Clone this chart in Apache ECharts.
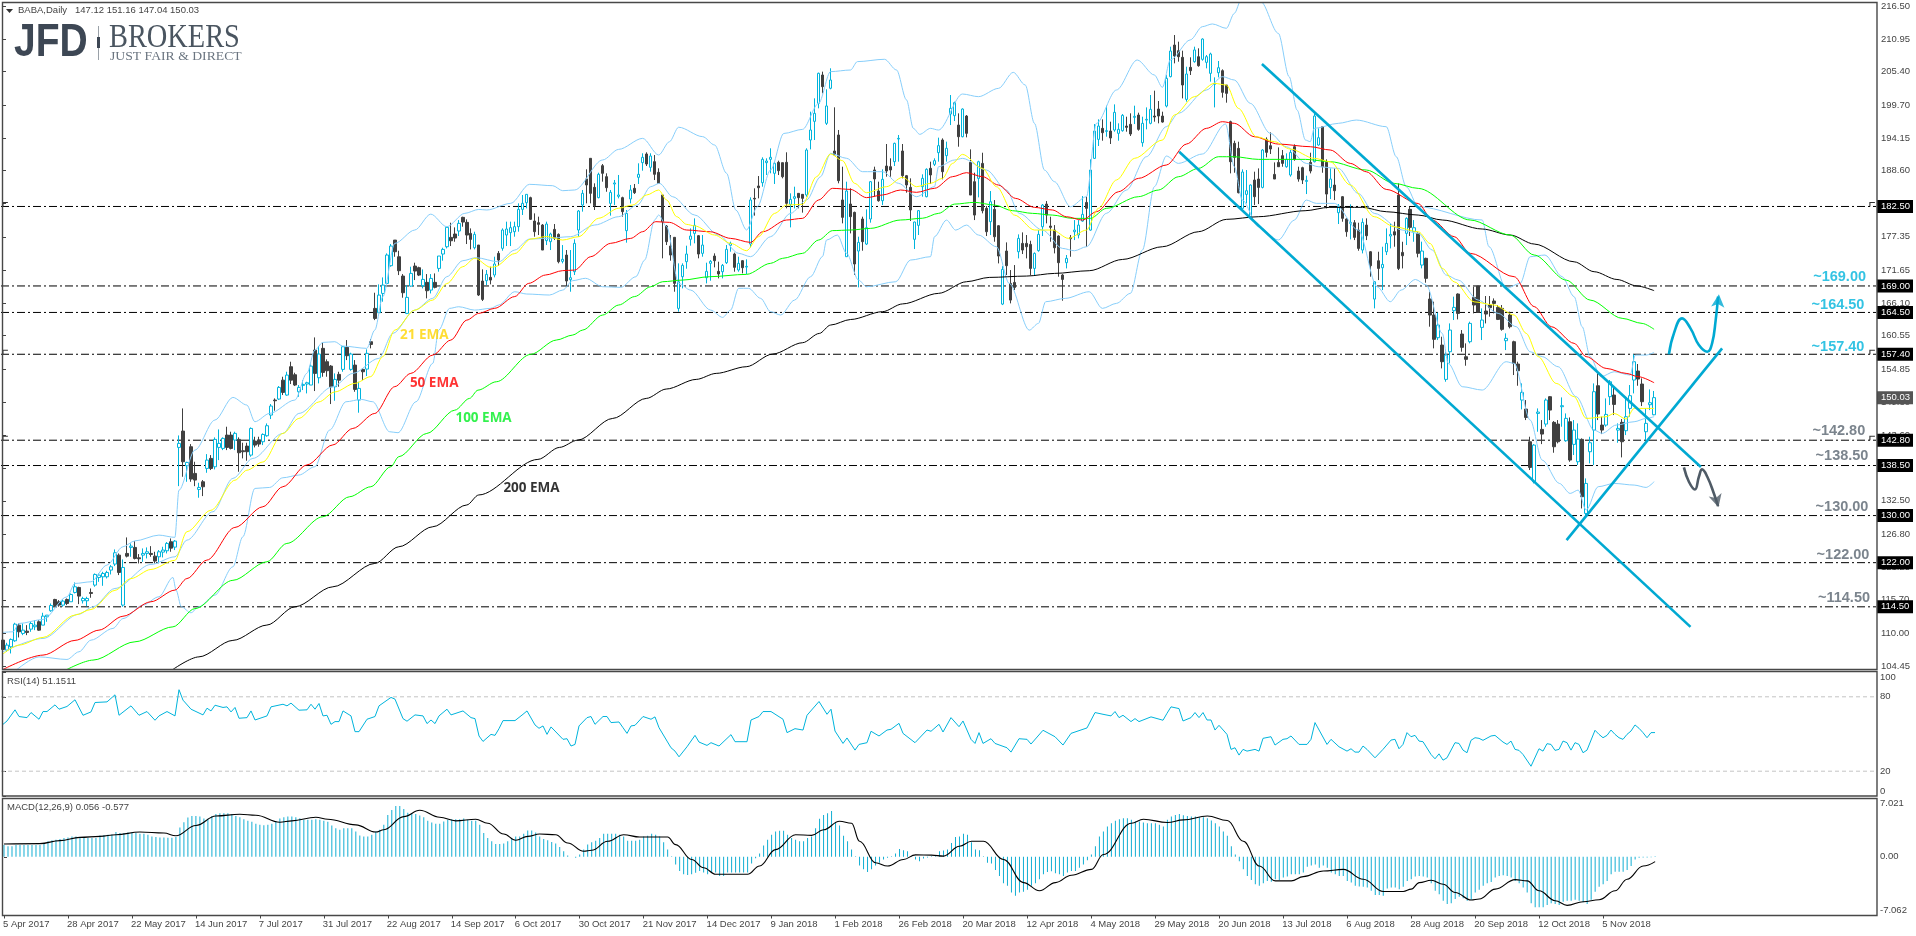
<!DOCTYPE html>
<html>
<head>
<meta charset="utf-8">
<title>BABA Daily</title>
<style>html,body{margin:0;padding:0;background:#fff}#chart{width:1916px;height:936px}</style>
<script src="https://cdn.jsdelivr.net/npm/echarts@6/dist/echarts.min.js"></script>
</head>
<body>
<div id="chart"></div>
<script>
// Daily candles as [open, close, low, high]
const candlesA = [
[108.85,107.26,106.86,109.0],[107.15,108.0,106.86,108.39],[107.71,108.96,106.58,109.13],[108.73,111.56,108.56,111.79],[111.39,110.26,109.3,111.67],
[109.98,110.54,109.69,111.67],[110.37,110.15,109.69,111.39],[110.71,111.67,110.26,111.96],[111.11,111.39,110.54,112.24],[111.96,110.54,110.43,112.24],
[111.39,112.92,111.39,113.49],[112.81,113.09,111.96,113.09],[113.83,114.73,113.66,115.07],[115.75,114.73,114.62,115.86],[115.36,114.79,114.51,115.64],
[114.79,115.47,114.51,115.75],[115.75,115.07,114.79,115.92],[115.36,116.6,115.36,116.77],[116.94,117.91,116.77,118.64],[117.79,116.32,114.96,117.91],
[115.53,115.92,115.07,116.21],[115.53,115.92,114.62,116.21],[116.94,116.77,116.04,117.62],[118.19,120.0,117.91,120.17],[119.49,119.89,118.75,120.17],
[119.6,120.17,118.07,120.45],[119.6,120.34,119.32,120.62],[120.74,121.3,120.0,121.59],[121.76,123.68,121.42,124.25],[123.28,120.34,119.89,123.57],
[114.79,121.19,114.51,122.55],[123.57,123.11,122.89,126.29],[124.59,124.81,123.0,125.27],[124.59,122.72,122.55,125.66],[122.83,122.66,121.87,123.46],
[123.28,123.57,122.15,124.42],[123.57,123.85,122.72,124.59],[123.57,123.4,123.0,124.81],[123.11,122.27,121.87,123.85],[123.0,123.85,121.87,124.14],
[123.79,124.14,122.89,124.7],[124.02,125.27,123.57,125.5],[125.55,124.47,123.85,126.12],[124.64,125.66,124.14,125.83],[141.58,142.26,135.0,143.61],
[144.35,139.14,136.59,148.2],[138.46,139.03,135.74,139.14],[141.69,136.2,135.74,142.14],[137.16,136.03,135.0,139.14],[134.44,134.78,133.03,135.57],
[135.74,134.89,133.31,136.03],[138.01,139.42,137.27,140.44],[139.71,138.01,137.73,140.27],[138.29,142.94,137.84,143.28],[141.58,142.26,139.42,144.63],
[141.41,143.11,141.12,143.28],[143.67,141.58,141.12,145.09],[143.67,141.41,141.24,144.24],[142.82,143.96,141.12,144.24],[142.94,140.67,137.44,143.28],
[141.01,140.84,139.71,142.37],[141.8,140.84,139.31,142.37],[140.27,144.8,139.99,144.97],[142.65,141.97,141.58,143.39],[142.82,142.14,141.69,143.39],
[142.54,143.78,141.97,143.96],[143.56,145.26,143.39,145.65],[147.07,148.6,146.39,148.94],[149.62,149.5,147.81,149.9],[149.79,151.77,149.62,152.0],
[153.0,150.92,150.47,153.58],[150.47,153.86,150.35,154.43],[155.28,153.0,152.34,156.13],[153.92,152.17,152.0,154.26],[151.03,151.77,150.18,152.17],
[152.11,152.28,151.32,153.0],[152.34,152.56,150.75,152.73],[152.17,155.39,152.17,155.68],[158.11,154.15,151.15,160.26],[153.41,157.43,152.45,158.79],
[158.4,154.32,153.58,159.36],[156.13,154.6,153.58,156.53],[155.39,151.88,148.94,155.56],[151.88,153.13,149.5,154.15],[153.98,153.0,151.88,154.43],
[154.83,158.68,154.43,158.79],[158.57,157.15,156.41,159.81],[154.83,157.43,154.6,157.66],[155.56,151.43,151.03,156.41],[149.62,151.6,147.47,152.73],
[154.83,154.43,153.0,155.0],[154.88,157.55,153.7,158.23],[159.53,159.07,158.4,159.98]
];
const candlesB = [
[165.19,163.49,163.2,167.85],[164.45,167.45,164.45,169.27],[167.73,169.15,166.32,170.45],[169.43,174.25,169.32,174.53],[172.44,175.78,172.27,176.12],
[176.79,174.81,173.96,176.79],[173.96,171.59,170.85,174.98],[170.68,167.85,167.0,171.02],[164.34,167.06,164.22,169.15],[168.98,171.13,168.87,172.27],
[172.38,171.53,170.0,172.95],[172.1,170.85,170.68,172.27],[169.04,170.11,168.59,171.81],[169.61,168.19,166.89,171.02],[168.3,170.28,167.73,171.02],
[169.61,168.76,168.59,171.13],[171.98,174.08,171.42,174.08],[174.42,175.21,173.29,175.49],[175.66,178.95,175.38,179.06],[177.25,176.68,175.78,179.74],
[177.82,177.14,176.51,178.95],[178.33,179.63,177.48,180.19],[180.65,179.85,179.06,180.76],[179.8,177.65,176.12,180.31],[177.93,176.91,175.21,178.78],
[175.49,177.76,175.21,178.21]
];
const candlesC = [
[175.95,167.46,167.29,175.95],[169.84,166.72,166.44,171.82],[169.89,170.97,169.16,171.71],[170.46,170.0,169.27,172.27],[170.86,172.73,170.46,173.97],
[174.54,173.4,172.39,174.93],[175.39,178.5,174.99,178.78],[177.65,178.67,175.78,179.92],[178.05,178.9,175.78,179.92],[178.22,179.07,177.37,179.92],
[179.07,182.01,178.22,183.03],[182.01,183.03,181.05,184.45],[183.14,184.56,182.18,184.56],[184.0,180.31,180.2,184.16],[180.03,178.22,177.37,181.33],
[179.75,179.46,177.65,180.77],[179.35,175.1,175.1,179.52],[176.69,179.52,175.95,179.92],[176.52,177.82,175.1,178.05],[178.61,177.09,176.8,179.52],
[177.76,173.12,172.84,177.93],[173.18,173.52,172.84,175.95],[174.25,169.84,168.87,175.1],[170.06,170.4,168.02,175.1],[171.42,176.24,170.86,176.92],
[178.5,181.73,177.37,181.9],[182.75,184.73,181.62,185.3],[187.17,186.15,183.03,188.81],[190.68,184.73,183.03,190.68],[185.75,182.63,181.9,186.43],
[184.0,187.96,183.88,188.24],[189.43,188.13,186.71,189.71],[187.56,185.69,185.0,188.13],[183.03,184.9,180.94,185.3],[186.32,186.49,182.75,187.0],
[184.22,184.45,183.88,187.85],[184.0,181.62,180.77,184.16],[178.39,181.33,176.35,181.9],[183.77,185.3,183.03,186.15],[185.58,184.84,184.62,186.32],
[187.45,187.96,186.32,189.83],[189.94,190.85,188.58,191.53],[191.41,189.71,189.37,191.7],[189.15,191.07,188.41,191.53],[190.11,187.96,186.99,191.24],
[188.3,186.43,186.32,188.98],[184.45,179.92,173.69,184.45],[179.18,176.52,175.95,179.35],[175.78,174.25,173.29,177.65],[177.26,169.44,168.02,177.26],
[165.19,169.72,164.63,172.84],[170.57,172.5,168.59,172.84],[173.12,174.42,171.93,175.84],[176.92,177.48,175.84,178.78],[177.93,179.29,176.24,180.48],
[177.54,174.42,173.69,177.65],[174.54,175.95,173.97,177.65],[170.4,171.48,169.44,172.95],[172.84,173.18,169.89,173.4],[174.08,173.29,172.16,174.54],
[171.48,171.03,170.29,173.12],[171.42,172.5,170.29,172.73],[172.95,175.22,172.73,175.95],[175.9,176.24,174.82,176.52],[174.42,172.16,171.42,174.65],
[171.71,172.84,171.42,173.97],[173.29,172.1,171.14,173.4],[172.21,172.33,171.03,173.52],[176.12,183.6,175.56,184.05],[183.88,183.77,180.94,185.58],
[185.98,185.69,183.88,187.67],[186.54,190.51,185.86,190.85],[189.94,190.22,187.84,190.68],[190.51,190.85,188.13,192.38],[188.13,189.83,186.32,190.11],
[190.0,188.58,187.84,190.28],[189.94,187.56,187.28,189.94],[190.0,183.03,182.18,191.7],[182.86,183.71,178.95,184.73],[183.88,184.16,182.18,185.86],
[184.73,184.0,182.18,184.73],[184.56,183.88,181.45,184.62],[184.45,192.09,184.16,192.38],[193.79,195.49,192.2,198.6],[196.96,198.32,193.79,200.87],
[200.02,205.12,199.17,205.23],[204.83,202.85,201.72,205.4],[196.62,199.57,196.34,202.4],[202.57,203.98,202.4,205.97],[191.92,191.24,191.24,199.34],
[194.64,186.88,186.43,195.49],[183.6,180.65,179.63,189.26],[173.97,185.13,173.97,186.71],[182.92,180.77,177.93,185.58],[181.5,172.73,170.86,181.62],
[174.93,176.4,168.76,177.37],[180.37,176.52,174.99,180.77],[176.12,178.9,175.95,182.01],[180.37,186.71,179.75,186.82],[188.7,187.17,184.16,189.26],
[185.13,183.48,183.31,186.71],[183.48,187.11,182.75,188.81],[189.37,188.52,187.56,193.11],[189.26,188.7,187.56,190.68],[190.11,193.22,189.37,193.34],
[193.96,194.07,190.11,194.64],[191.92,187.73,187.28,193.11],[187.73,186.15,184.84,187.85],[185.75,181.9,180.03,187.28],[176.92,179.86,175.27,179.92],
[179.29,181.79,177.65,181.9],[185.86,187.28,184.16,187.96],[184.16,188.81,184.05,188.98],[188.98,187.85,186.32,190.11],[189.66,190.28,189.37,190.68],
[191.64,192.83,190.11,194.19],[193.79,188.41,187.11,194.07],[191.13,192.38,190.11,193.51]
];
const candlesD = [
[198.2,199.17,196.33,201.43],[197.92,200.13,197.01,200.3],[196.33,194.35,192.65,198.32],[194.35,199.05,194.24,199.17],[197.86,194.92,194.24,198.03],
[190.0,184.44,184.44,192.2],[186.71,181.04,180.19,188.24],[187.27,190.1,184.05,190.27],[189.82,181.78,181.33,191.63],[182.18,178.21,177.48,182.57],
[179.91,183.31,177.65,185.12],[182.01,177.36,176.51,183.59],[179.23,174.08,172.83,179.34],[165.92,171.81,165.75,172.38],[174.93,172.44,170.85,176.4],
[169.43,166.6,166.04,171.7],[169.6,168.75,168.3,172.55],[174.81,177.08,173.68,177.76],[176.23,175.1,174.42,178.1],[176.23,175.66,173.68,177.65],
[176.06,171.98,170.85,176.68],[171.98,174.53,170.85,174.7],[175.0,177.76,174.81,178.49],[179.06,182.74,177.48,182.91],[182.91,181.04,179.63,183.42],
[179.17,178.95,176.51,180.76],[178.49,175.49,174.53,179.34],[177.48,172.95,170.57,177.59],[170.85,170.11,166.49,171.02],[172.95,173.68,171.98,174.25],
[177.19,177.02,173.96,177.65],[178.21,178.49,176.79,180.19],[177.65,179.34,177.08,180.19],[180.02,181.16,179.91,184.27],[183.19,182.18,175.66,184.16],
[178.49,188.69,178.38,190.5],[190.67,195.31,190.56,196.5],[193.9,196.16,192.77,197.3],[195.77,195.03,193.67,197.3],[195.26,195.37,194.35,199.62],
[195.31,194.13,193.11,196.9],[195.48,198.49,195.2,199.84],[194.92,195.6,193.67,196.62],[195.37,197.98,195.2,198.2],[196.16,195.94,195.2,197.75],
[196.45,194.81,194.47,198.32],[197.64,197.81,196.5,199.62],[198.03,195.6,195.37,198.43],[193.33,196.62,192.65,197.75],[197.18,197.3,195.6,199.33],
[196.62,199.0,196.45,201.43],[197.86,197.69,196.9,202.17],[199.05,197.86,196.62,200.41],[197.86,196.84,196.73,198.6],[199.56,204.26,199.33,204.83],
[204.55,208.9,204.43,209.64],[209.92,208.06,206.81,211.62],[208.96,207.94,207.09,210.49],[207.83,203.13,200.86,208.96],[200.69,205.0,200.3,206.24],
[206.13,205.56,204.83,207.83],[207.09,209.08,206.92,209.64],[207.94,206.41,206.24,209.36],[207.49,210.94,207.26,211.06],[206.98,207.94,205.96,208.23],
[205.11,208.4,203.7,208.62],[203.24,203.41,199.33,204.43],[205.22,206.07,204.43,207.21],[205.56,201.88,200.98,205.79],[203.13,201.71,200.13,203.13],
[196.9,190.1,188.12,197.07],[193.22,190.84,188.23,193.67],[192.37,184.84,184.72,193.5],[182.18,188.35,182.18,188.8],[184.55,185.18,183.03,188.69],
[180.76,186.14,180.76,186.25],[186.99,184.16,182.74,188.41],[187.16,185.74,182.91,188.97],[185.74,192.09,185.57,192.26],[193.9,191.69,190.84,194.24],
[192.82,192.26,191.41,195.09],[187.95,187.16,187.16,189.99],[189.99,189.25,189.25,192.54],[191.13,189.82,189.25,192.09],[189.25,190.5,189.08,191.52],
[187.84,191.69,187.56,192.09],[192.65,190.5,190.27,193.05],[188.52,187.16,186.71,189.25],[189.09,186.99,186.31,189.25],[186.76,186.93,184.61,187.73],
[189.99,188.52,188.12,191.63],[190.1,197.86,189.99,198.32],[192.94,194.18,192.82,195.77],[196.05,189.25,188.23,196.16],[189.99,184.61,182.18,190.5],
[185.69,187.16,183.76,188.97],[186.14,185.18,183.59,188.97],[181.44,182.57,179.52,182.91],[184.16,180.48,179.91,184.27],[180.37,178.21,177.36,180.48],
[179.63,179.8,176.91,182.86],[179.74,177.25,176.79,180.19],[178.49,175.38,174.98,179.74],[175.1,179.8,174.53,180.48],[179.34,177.53,176.79,180.48],
[174.81,172.44,170.57,174.92],[166.77,169.72,165.19,169.83],[173.28,171.98,170.0,174.81],[172.09,172.66,168.3,175.66],[174.81,176.23,174.25,178.78],
[177.48,177.76,175.38,179.63],[178.21,177.65,175.66,179.91],[184.44,171.98,171.7,186.42],[174.7,174.13,171.98,176.51]
];
const candlesE = [
[177.93,180.48,175.95,180.65],[182.01,178.95,177.48,182.46],[178.21,178.89,176.51,180.19],[177.93,174.54,173.86,178.1],[172.55,174.93,171.99,176.52],
[173.69,170.29,169.55,173.8],[166.78,164.06,162.08,168.02],[164.06,159.93,158.4,166.33],[160.21,162.36,159.81,164.46],[158.96,156.13,155.0,160.38],
[153.13,157.26,152.73,157.83],[157.83,161.51,155.85,162.64],[164.8,165.36,163.21,167.18],[167.63,164.34,163.32,167.74],[160.83,158.57,157.83,161.51],
[156.98,156.53,155.45,159.25],[159.53,162.64,159.25,162.93],[167.06,165.76,164.34,168.87],[168.99,164.51,164.51,168.99],[161.96,163.21,159.81,165.19],
[164.74,164.23,162.64,167.29],[165.76,165.31,163.78,167.29],[166.44,166.04,164.34,166.89],[165.36,163.32,163.21,165.76],[165.19,161.63,161.4,165.76],
[159.7,160.1,158.11,160.95],[164.06,162.08,161.79,164.63],[159.53,155.85,153.87,159.7],[155.74,154.6,152.05,156.13],[149.62,150.92,148.03,152.45],
[148.09,146.67,146.22,149.62],[142.54,138.18,137.73,143.39],[135.75,141.97,135.46,142.14],[147.35,147.58,144.24,148.2],[144.64,143.84,142.14,146.22],
[145.54,149.62,145.09,149.9],[150.19,147.92,146.22,150.3],[145.83,141.69,140.67,146.05],[145.54,142.54,142.26,146.22],[148.49,148.66,145.09,150.07],
[142.71,146.51,142.54,147.35],[145.94,139.43,139.14,146.67],[142.09,144.52,140.28,146.22],[139.14,142.99,138.58,145.66],[142.94,133.2,131.21,143.11],
[130.36,135.46,130.08,136.31],[140.84,142.37,138.86,143.39],[144.52,151.04,138.58,152.45],[152.05,147.24,146.22,154.15],[145.37,144.52,143.84,146.79],
[145.37,147.18,145.09,149.9],[150.19,152.73,148.77,153.02],[150.47,148.88,147.07,151.89],[144.52,144.81,142.37,145.66],[145.83,142.54,139.88,146.39],
[144.41,146.79,143.67,150.19],[148.2,150.36,146.79,152.17],[153.02,156.13,150.75,157.38],[154.55,153.19,152.05,155.74],[152.34,149.34,148.6,153.3],
[144.24,145.66,142.82,148.2],[148.83,149.17,147.92,151.43],[147.12,150.03,147.04,151.16]
];

// Moving averages and Bollinger bands: [bar number, price]
const ema21 = [[0,106.5],[4,108],[10,109.3],[18,113.1],[22,114.05],[28,117.3],[32,119.3],[37,120.85],[43,122.4],[46,127.25],[52,130.9],[58,136],[61,137.7],[65,139.1],[70,143.95],[74,146.5],[79,149.3],[83,151],[88,152.45],[92,153.6],[95,157],[98,161.5],[103,164.9],[107.5,166.6],[111,169.4],[115,172.27],[118,173.7],[122,172.16],[123,172.27],[128,174.5],[132,176.97],[136,177.4],[140,176.8],[144,177.37],[149,180.5],[154,182.2],[157.5,182.75],[161,184.45],[164,185.3],[166,183.6],[168.5,180.77],[171,179.46],[173,179.2],[178,177.65],[182,176.24],[186,174.99],[189,177.37],[193,181.33],[196,182.75],[200,182.86],[203.5,187.56],[207,191.41],[210,190.28],[213,186.43],[216,184.84],[221,185.86],[225,187.45],[228.5,185.86],[232,186.43],[235,187.27],[237.5,189.82],[240,191.35],[245,188.97],[248.5,185.86],[253,181.04],[258,178.5],[262.5,178.5],[266.5,177.08],[271,178.49],[274,182.18],[278.5,186.99],[283,190.67],[290,193.78],[293,198.03],[298,201.15],[303,203.41],[306,203.13],[309,199.17],[313.5,194.35],[318,193.5],[322,192.26],[328,190.67],[332,190.1],[337,186.14],[343,180.76],[348,179.06],[354,178.21],[357,176.2],[360,172],[363,169.7],[368,166.3],[373,165.76],[378,164.06],[381,160.95],[384,157],[388.5,152.45],[393,150.2],[396,146.5],[401,146.79],[403,147.35],[406,146.39],[408,148.2],[413,148.2]];
const ema50 = [[0,103.86],[10,106.3],[18,108.8],[24,110.54],[30,112.9],[37,115.36],[43,117.34],[46,119.3],[51,122.44],[58,127.98],[65,131.5],[70,134.9],[76,138.6],[82.5,142],[87.5,144.8],[93,147.35],[98,151.9],[102,154.15],[107.5,157.26],[112,159.8],[116,163.2],[119,164.34],[123,165.2],[128,167.2],[131.5,169.44],[135.7,170.86],[140,171.6],[143,171.7],[147,173.97],[152,176.24],[157,177.08],[160,178.22],[163.3,179.92],[166.7,179.8],[171,178.5],[177,178.2],[182,177.08],[187,176.4],[190,178.2],[196,180.2],[200,180.48],[204,183.6],[207.5,185.58],[212,185.4],[216,184],[220,184.45],[224.5,185.3],[228.5,184.9],[233,185.58],[237.5,187.56],[241,188.24],[245,187.56],[249,186.14],[253.3,183.87],[258,182.35],[262.5,181.9],[266,180.76],[270,180.19],[273.5,181.61],[279,185],[284,187.27],[291,189.54],[296,193.1],[301,195.77],[305,196.9],[308,196.62],[313,194.35],[319,193.1],[327,192.65],[332,192.09],[337,189.82],[341,188.4],[346,185.4],[354,183],[357.5,180.2],[363,177.37],[367,174.54],[378,170.57],[383,165.5],[387.3,162.08],[393,159.25],[396,157],[401,155],[406,154.15],[409,153.6],[413,152.56]];
const ema100 = [[16,103.86],[22.5,105.45],[33,108.56],[42.5,111.1],[48,114.2],[57.5,119],[66,122.15],[71,125.27],[80,129.8],[86.7,133.2],[92,134.9],[97,138.3],[99,140],[106,143.95],[113,147.9],[116.7,149.9],[118.8,151.3],[123.4,152.73],[132,157.38],[138.4,159.81],[142.5,160.66],[145,161.51],[150,164.06],[154,165.76],[158,167.2],[162,168.87],[165,169.72],[170,170],[176.7,170.57],[186,170.97],[192,172.84],[195,173.69],[200,174.54],[204,176.8],[207.5,178.4],[212,178.5],[217,178.78],[224.5,180.2],[230,180.5],[234,181.33],[238,182.9],[243,183.2],[248,182.74],[252.5,181.78],[257.5,181.33],[262.5,181.04],[267.5,180.48],[272,180.48],[276,182.18],[284,184.16],[289,185.29],[294,187.55],[299,188.97],[304,190.95],[308,190.95],[314,190.5],[325.8,190.5],[332,190.1],[341,188.69],[348,186.42],[354,185.57],[367,180.2],[377,177.65],[383,174.25],[391,170],[397,166.6],[405,163.5],[410,162.64],[413,161.63]];
const ema200 = [[42.5,103.86],[49,106],[57.5,108.8],[66,111.4],[73,114.5],[82.5,117.9],[93,121.87],[99,124.7],[107.5,128.1],[116,131.8],[119,133.5],[133.8,139.54],[139.2,141.58],[143.8,142.82],[152.5,146.5],[160.9,149.9],[165.9,151.49],[173.4,153.13],[178.4,154.15],[185.9,155.28],[192.5,157.43],[200,159.36],[204.2,160.94],[207,162.36],[212,163.3],[220,164.63],[225,165.95],[234,167.74],[241,169.72],[246.7,170.45],[256,170.68],[263,171.13],[271.7,171.59],[280,173.5],[290,175.66],[299,178.21],[306,180.31],[314,180.76],[325.7,181.78],[331.7,182.35],[340,182.35],[346,181.61],[354,181.04],[360,180.2],[370,178.67],[377,177.65],[383,176.12],[393,173.1],[398,171.42],[403.7,170.1],[408.7,169],[413,168.2]];
const bandUpper = [[0,110.15],[2.5,110.26],[4,111.67],[10,112.35],[16,116.2],[18,118.47],[22,118.75],[26,121.59],[30,124.7],[33,125.7],[39,126.68],[43,126.3],[44,134.3],[48,141.12],[53,146.22],[57.5,150.07],[61,148.77],[63,145.94],[66.7,147.35],[73,149.62],[76,154.15],[78,158.11],[80,159.41],[83,159.53],[85,158.79],[91,158.4],[93,161.51],[95,167.17],[98,176.23],[103,178.5],[107,181.2],[111,179.06],[115.5,181.33],[119,182],[121,181.9],[127,183.03],[131.7,186.26],[137.5,186.03],[140,185.18],[143,185.3],[150,190.4],[154,192.2],[160,194.07],[164,191.24],[166.7,193.5],[169,195.96],[175,194.36],[178,192.94],[181,188.13],[183.3,181.9],[186,178.5],[188.7,182.47],[192,188.7],[195.3,194.9],[200,195.6],[204,200],[207,205.4],[212,205.68],[213.7,207.1],[220.5,207.5],[223.5,205.68],[226,200.6],[227.7,195.77],[229.3,194.75],[232,195.77],[234,195.48],[240,201.6],[244,201.15],[249,202.56],[252.7,205.28],[255.7,203.13],[258,196.62],[260.5,188.69],[263,186.71],[267,182.46],[271,184.16],[273.5,196.62],[278.5,202.28],[283.7,207.38],[288,204.83],[290,202.73],[292,207.4],[297,210.8],[300,213.04],[302.5,213.5],[306,212.76],[308,215.3],[309.7,217.6],[314.6,217.3],[319,211.91],[321.7,204.55],[323.7,198.88],[325.8,193.78],[327,193.5],[328,195.77],[334,196.62],[338.5,197.18],[346,196.05],[348.5,190.95],[351,185.86],[354,182.46],[370,180.2],[371.7,175.67],[376,168.59],[379.5,169.44],[382,173.97],[385.7,174.25],[390,170.57],[393,167.17],[395,162.08],[397,156.98],[399.7,153.58],[403,154.43],[407,153.87],[408.3,157.26],[411,157.26],[413,157.72]];
const bandMiddle = [[0,106.86],[10,109.13],[19,113.26],[22.5,114.5],[28,117.62],[37,121.7],[43,123],[46,125.83],[52.5,130.65],[57.5,136.31],[62.5,139.71],[70,143.95],[74,147.35],[82.5,151.88],[87.5,154.15],[94,156.7],[97.5,160.94],[103,164.9],[107.5,166.9],[111,170.57],[115,173.29],[118.3,173.8],[124,173.1],[128,175.1],[131.7,176.97],[136,177.08],[142,177.37],[148,179.35],[154,180.77],[158.7,182.75],[162,185.86],[164.2,186.43],[167.5,184.16],[173,181.05],[179,177.65],[184,174.54],[187,173.97],[192,177.37],[197,181.33],[201,183.6],[204.5,187.56],[207,191.53],[211,190.68],[215,188.41],[220,188.41],[224,186.43],[228.5,184.16],[233,185.86],[234,189.25],[238,190.39],[240,190.67],[246,188.69],[251,185.29],[254.2,181.33],[260,178.5],[265,175.38],[268,174.98],[271,175.66],[276,181.33],[281,185.29],[286,190.95],[291,196.05],[294,198.32],[301,202.28],[305,204.55],[308,203.98],[312,200.01],[317,194.92],[321,192.65],[326,189.82],[329,189.25],[334,188.97],[339,184.72],[343,181.33],[350,178.5],[354,177.93],[357.5,175.1],[361,170.86],[364,170],[369,166.6],[374,164.34],[378.5,162.08],[382,157.83],[385,157],[389,155.28],[393.5,150.19],[398,144.52],[400,143.96],[403.5,145.37],[408,145.94],[411,146.5],[413,146.8]];
const bandLower = [[3.3,103.75],[9,106],[16,105.56],[19,106.86],[22,108.84],[27.5,110.83],[30,112.5],[35,114.79],[39,116.21],[42.5,119.49],[43.3,117.34],[44.6,114.51],[47,113.49],[49,114.51],[53,116.49],[57.5,121.3],[60,126.4],[63,134.61],[66.7,134.78],[70,136.42],[74,136.88],[78,138.3],[81.7,144.52],[85.8,149.33],[89.6,149.73],[92.5,149.33],[96.7,144.24],[98.8,144.07],[103.3,149.33],[107.5,155.85],[109,161.51],[111.7,165.19],[114,165.47],[118,164.9],[122,165.2],[124,165.76],[128,168.02],[131,167.63],[136.7,167.46],[140,168.3],[142.5,169.9],[145.7,170.3],[150,168.87],[154.5,168.76],[158.3,170.57],[160.5,173.4],[163,180.2],[164,181.05],[166,179.07],[169,169.44],[172,168.3],[177,164.9],[180,163.66],[182,164.9],[184,168.6],[186.5,168.6],[189.5,166.9],[192,164.63],[194.5,164.06],[198,166.6],[202,170.57],[205,174],[206,176.8],[208.7,177.65],[211,174.54],[214,170],[216,168.87],[223.3,169.72],[227,173.4],[232,173.97],[233,177.37],[236,180.19],[238.3,178.49],[241,179.34],[244,177.65],[248.5,175.66],[251.7,169.43],[256.7,161.5],[259,162.64],[260.8,166.32],[265.7,166.89],[271.7,168.02],[275,165.19],[278.5,166.04],[282,167.74],[285,175.1],[288,185.86],[291,191.07],[294,189.82],[300,191.41],[305.8,196.5],[308,189.25],[310,183.59],[314,179.06],[319,176.8],[323,180.19],[326,183.59],[328.5,183.03],[333,183.03],[339,178.49],[343.7,168.87],[347,166.32],[349.7,168.3],[353.3,170.1],[356,169.16],[360,160.95],[361.5,155.85],[365,151.89],[370,151.32],[376,156.13],[378,155.85],[382,146.22],[385,139.43],[389.3,135.46],[392,133.76],[394,134.33],[396,130.93],[399,134.9],[403,135.46],[408,135.18],[411,134.78],[413,135.75]];

// RSI(14) turning points: [bar number, value]
const rsiLine = [[0,57.8],[1,60.5],[3,69.5],[4,64.1],[6,63.2],[7,67.3],[9,61.9],[10,68.1],[11,68.1],[13,73.5],[14,70],[16,72.2],[18,77.6],[20,65.1],[22,67.8],[23,75.4],[26,75.9],[28,81.6],[29,65.1],[32,72.7],[34,65.1],[36,68.1],[38,61.1],[39,64.6],[41,68.1],[43,64.6],[44,85.7],[45,77.3],[47,70],[50,65.4],[51,70.8],[52,68.6],[53,73.2],[55,71.4],[56,71.9],[57,67.8],[58,71.4],[59,62.7],[61,63.2],[62,68.6],[63,61.3],[66,64.6],[67,71.9],[70,74],[71,72.7],[72,74.9],[74,69.2],[76,69.5],[77,74],[78,70],[79,74.6],[80,64.6],[81,65.1],[82,57.8],[83,60],[84,60],[85,68.6],[87,64.6],[88,51.9],[89,51.9],[91,61.9],[93,64.1],[94,72.7],[97,79.5],[98,78.1],[100,62.4],[101,60.3],[103,65.4],[105,64.6],[106,58.4],[107,61.3],[108,58.4],[109,64.6],[111,70],[112,65.4],[115,68.6],[117,63.2],[118,62.4],[119,48.4],[120,44],[122,49.7],[123,48.9],[124,54.3],[125,60.8],[128,60.8],[130,65.9],[131,68.6],[133,57.3],[134,54.6],[135,56.5],[136,49.7],[137,55.7],[138,52.4],[140,45.7],[141,46.2],[142,40.3],[143,41.6],[144,56.5],[146,63.2],[147,64.1],[148,57.8],[150,64.1],[151,64.1],[152,59.2],[154,59.7],[155,55.1],[156,50.5],[157,56.5],[158,57],[160,64.1],[162,61.9],[163,63.8],[164,55.1],[166,44.3],[167,38.9],[168,36.2],[169,31.6],[171,39.7],[173,48.9],[174,43.5],[176,40.8],[177,43],[179,40.3],[182,49.5],[183,43.8],[186,43.8],[187,61.3],[189,64.1],[190,68.1],[192,68.1],[195,61.9],[196,51.1],[198,54.3],[200,53.2],[201,65.1],[204,76.2],[206,65.9],[207,70],[208,52.4],[210,42.4],[211,46.8],[213,37],[214,41.6],[216,43],[217,52.2],[219,48.4],[221,53.2],[222,53.8],[224,58.6],[225,50.5],[228,43],[231,53.2],[232,52.2],[234,57.8],[235,51.6],[237,63.2],[239,55.9],[240,60.5],[242,45.7],[243,42.4],[244,51.1],[245,42.4],[247,46.2],[248,42.4],[251,38.9],[252,35.4],[254,46.2],[256,45.7],[257,41.9],[260,53],[263,47.8],[265,41.1],[267,50.5],[271,54.9],[273,67.3],[275,65.9],[277,64.6],[278,68.1],[279,63.2],[280,65.1],[282,60],[283,62.4],[284,60],[287,63.8],[290,61.1],[291,66.7],[292,71.9],[294,70.5],[295,60.5],[297,63.2],[298,67.3],[299,63.2],[300,67.3],[301,61.3],[302,61.3],[303,53.2],[304,57],[306,49.7],[307,37.6],[308,38.9],[309,33],[310,37.6],[311,36.2],[313,37.6],[314,36.2],[315,46.5],[317,47.8],[318,41.1],[320,45.7],[321,46.2],[322,48.4],[324,41.6],[326,41.6],[327,45.7],[328,59.2],[331,41.6],[332,45.7],[334,39.7],[336,36.2],[337,38.1],[338,35.4],[339,35.4],[340,40.3],[341,37.6],[343,30.8],[345,37.6],[347,45.1],[348,45.7],[349,38.1],[350,41.6],[351,51.1],[352,47.8],[353,48.9],[354,44.3],[355,43.8],[357,33.5],[358,30],[359,34],[360,28.9],[361,30.8],[363,43],[364,42.4],[365,37],[366,34.9],[367,44.9],[368,47],[369,46.5],[370,44.9],[372,48.4],[373,48.9],[375,43.5],[376,41.6],[377,44.3],[378,37.6],[379,36.8],[380,33.5],[382,24],[384,38.1],[385,36.2],[386,42.2],[387,41.6],[388,36.8],[389,37.6],[390,44.3],[391,43],[392,37],[393,43],[394,41.6],[395,34.9],[396,37],[398,53],[399,49.7],[400,47],[401,48.9],[402,53.2],[403,49.7],[404,47],[405,45.7],[406,49.7],[407,52.4],[408,57.3],[409,54.6],[410,51.1],[411,47],[412,51.1],[413,51.15]];

// MACD(12,26,9) histogram, one value per bar
const macdHistA = [1.43,1.27,1.27,1.43,1.43,1.43,1.43,1.43,1.43,1.43,
1.67,1.87,1.99,2.06,2.14,2.26,2.34,2.46,2.46,2.34,
2.26,2.26,2.26,2.26,2.58,2.62,2.66,2.7,2.98,2.86,
2.86,2.94,2.94,2.86,2.78,2.78,2.66,2.46,2.38,2.34,
2.34,2.3,2.3,2.38,3.53,4.17,4.72,4.92,4.92,4.84,
4.6,4.57,4.92,5.16,5.24,5.24,5.24,5.16,4.92,4.76,
4.53,4.33,4.21,3.97,3.85,3.81,3.85,3.97,4.25,4.6,
4.76,4.84,4.84,4.76,4.64,4.45,4.45,4.45,4.53,4.45,
4.33,4.21,3.77,3.45,3.26,3.45,3.45,3.45,3.06,2.58,
2.46,2.46,2.66,3.06,3.26,3.85,5.04,5.64,6.11,6.11];
const macdHistB = [5.76,5.32,5.24,5.16,4.96,4.76,4.33,4.13,3.97,3.97,
4.25,4.45,4.53,4.53,4.53,4.6,4.45,4.33,4.33,3.85,
2.86,2.26,1.87,1.55,1.55,1.59,1.87,2.18,2.46,2.46,
2.78,3.18,3.18,2.94,2.46,2.14,1.99,1.79,1.59,1.19,
0.67,0.16,0,-0.12,0.28,0.87,1.47,1.75,1.95,2.26,
2.78,2.78,2.78,2.78,2.66,2.46,1.95,1.95,1.95,2.06,
2.46,2.54,2.78,2.66,2.46,1.75,0.87,0.08,-0.91,-1.71,
-2.1,-2.18,-2.1,-1.91,-1.71,-1.9,-2.1,-1.9,-1.9,-2.3,
-2.3,-1.9,-1.9,-1.9,-1.9,-1.9,-1.9,-0.79,-0.16,0.4,
1.35,2.06,2.66,3.06,3.14,3.14,2.66,2.26,2.06,1.87];
const macdHistC = [1.87,2.26,2.46,3.45,4.57,5.04,5.24,5.52,4.17,3.77,
2.54,1.87,0.87,0.08,-1.03,-1.51,-1.83,-1.51,-1.03,-0.71,
-0.32,-0.12,0.08,0.4,0.95,0.79,0.67,0.08,-0.32,-0.52,
-0.2,-0.08,0.08,0.08,0.67,0.75,0.87,1.67,2.38,2.46,
2.78,2.66,1.75,0.87,0.79,0.08,-0.71,-0.79,-1.59,-2.3,
-3.18,-3.49,-4.29,-4.68,-4.29,-4.21,-3.97,-3.49,-3.18,-2.7,
-2.1,-1.83,-1.75,-1.98,-2.1,-2.3,-1.9,-1.71,-1.71,-1.31,
-0.91,-0.4,0.28,1.27,2.46,3.06,3.65,4.05,4.33,4.53,
4.64,4.64,4.45,4.25,4.25,4.13,4.05,4.05,4.05,3.85,
3.65,4.45,4.84,5.04,5.16,5,4.92,4.84,4.84,4.76];
const macdHistD = [4.76,4.64,4.37,4.05,3.65,3.06,2.54,1.27,0.28,-0.52,
-1.51,-2.3,-2.78,-3.3,-3.49,-3.18,-2.9,-3,-2.7,-2.78,
-2.5,-2.38,-2.1,-2.1,-2.1,-1.9,-1.19,-1.03,-0.91,-1.31,
-1.03,-1.31,-1.9,-2.1,-2.3,-2.3,-2.9,-3.1,-3.49,-3.57,
-3.61,-3.69,-4.09,-4.6,-4.6,-4.68,-3.81,-3.69,-3.69,-3.89,
-3.61,-2.9,-2.7,-2.38,-2.3,-2.38,-2.5,-3.18,-4.09,-4.49,
-5.28,-5.68,-5.6,-5.08,-4.8,-5,-5.28,-5.16,-4.29,-3.97,
-3.49,-3.18,-3.02,-2.5,-2.3,-2.22,-2.3,-2.5,-2.9,-3.18,
-3.69,-4.29,-5.6,-6.07,-6.07,-6.07,-5.8,-5.6,-5.68,-5.8,
-5.4,-5.28,-5.28,-5.16,-5.28,-5.48,-5.68,-5.16,-4.21,-3.61,
-3.3,-2.9,-2.1,-1.79,-1.79,-1.79,-1.59,-1.11,-0.32,-0.12,
-0.08,-0.08,-0.04,0.056];
const macdSignal = [[0,1.55],[9,1.59],[14,1.95],[19,2.34],[24,2.46],[28,2.66],[34,2.98],[40,2.86],[43,2.54],[48,3.77],[53,4.92],[59,5.12],[63,5],[69,4.17],[72,4.33],[78,4.76],[81,4.53],[88,3.85],[93,2.98],[95,3.26],[100,4.84],[104,5.6],[109,4.76],[113,4.33],[118,4.53],[121,4.05],[125,2.74],[128,1.99],[131,2.46],[134,2.74],[138,2.66],[141,1.67],[145,0.67],[147,0.79],[151,1.87],[155,2.66],[159,2.38],[166,2.38],[168,1.47],[172,-0.32],[175,-1.31],[178,-2.1],[186,-2.1],[189,-1.11],[193,0.87],[198,2.66],[202,2.58],[205,3.26],[209,4.29],[212,4.05],[214,1.87],[218,-0.71],[221,-1.11],[225,-0.32],[228,0.24],[232,0.2],[235,0.08],[239,1.27],[242,1.87],[245,1.87],[250,-0.32],[255,-3.1],[259,-4.09],[263,-3.1],[267,-2.22],[272,-1.51],[275,0.28],[282,4.05],[285,4.53],[291,4.13],[295,4.45],[301,4.92],[306,4.37],[310,1.87],[314,-1.11],[318,-2.9],[322,-2.9],[325,-2.38],[330,-1.71],[335,-1.51],[340,-2.7],[345,-4.17],[350,-4.17],[352,-3.89],[354,-3.1],[357,-2.82],[360,-3.3],[363,-4.29],[367,-5.2],[369,-5.08],[373,-3.89],[378,-2.74],[381,-2.9],[384,-4.09],[388,-5.28],[391,-5.84],[395,-5.4],[399,-5.16],[403,-4.09],[406,-2.7],[410,-1.11],[413,-0.577]];

// Axis ticks, support and resistance levels, date labels
const priceTicks = [216.5,210.95,205.4,199.7,194.15,188.6,183.05,177.35,171.65,166.1,160.55,154.85,149.3,143.6,138.05,132.5,126.8,121.25,115.7,110,104.45];
const levels = [182.5,169,164.5,157.4,142.8,138.5,130,122,114.5];
const lastClose = 150.03;
const rsiTicks = [0,20,80,100];
const macdTicks = [-7.062,0,7.021];
const dateTicks = ['5 Apr 2017','28 Apr 2017','22 May 2017','14 Jun 2017','7 Jul 2017','31 Jul 2017','22 Aug 2017','14 Sep 2017','6 Oct 2017','30 Oct 2017','21 Nov 2017','14 Dec 2017','9 Jan 2018','1 Feb 2018','26 Feb 2018','20 Mar 2018','12 Apr 2018','4 May 2018','29 May 2018','20 Jun 2018','13 Jul 2018','6 Aug 2018','28 Aug 2018','20 Sep 2018','12 Oct 2018','5 Nov 2018'];

// Drawn trend channel, rising support and the two scenario paths
const channelUpper = [[314.9,206.7],[424.7,138.25]];
const channelLower = [[294.2,191.8],[422.1,111.1]];
const risingSupport = [[391.1,125.84],[430,158.4]];
const bullPath = [[416.7,157.38],[417.95,160.95],[420,163.49],[422.1,161.8],[424.2,158.96],[426.3,157.83],[427.5,159.25],[428.4,163.21],[429,167.17]];
const bearPath = [[420.45,138.18],[421.7,135.75],[423.2,134.44],[424.2,136.6],[425,137.84],[426.3,136.6],[427.95,133.76],[429,131.6]];

const CYAN = '#00b4dc', DARK = '#404040', SLATE = '#5a6570', BAND = '#87cefa';
const FONT = '"Liberation Sans", Arial, sans-serif';
const SLOTS = 469, XMIN = -0.5, XMAX = SLOTS - 0.5;

const candles = [].concat(candlesA, candlesB, candlesC, candlesD, candlesE);
const macdHist = [].concat(macdHistA, macdHistB, macdHistC, macdHistD);
const slots = Array.from({length: SLOTS}, (_, i) => String(i));

const lineSeries = (data, color, width, z, extra) => Object.assign({
  type: 'line', xAxisIndex: 1, yAxisIndex: 0, data, symbol: 'none', z,
  lineStyle: {color, width}, silent: true
}, extra || {});
const curved = {smooth: 0.3, smoothMonotone: 'x'};

// Text placed in chart coordinates
const note = (x, y, text, color, size, family) => ({
  value: [x, y],
  label: {show: true, position: 'inside', formatter: text, color, fontSize: size,
          fontWeight: 'bold', fontFamily: family}
});
const OPEN = '"Open Sans", "Liberation Sans", sans-serif';
const notes = [
  note(105.4,160.7,'21 EMA','#ffd400',13.5,OPEN), note(107.85,152.5,'50 EMA','#ff0000',13.5,OPEN),
  note(120.2,146.6,'100 EMA','#00ee22',13.5,OPEN), note(132.2,134.7,'200 EMA','#000000',13.5,OPEN),
  note(459.4,170.57,'~169.00',CYAN,14.5,FONT), note(459,165.76,'~164.50',CYAN,14.5,FONT), note(459,158.68,'~157.40',CYAN,14.5,FONT),
  note(459.2,144.36,'~142.80',SLATE,14.5,FONT), note(460,140.11,'~138.50',SLATE,14.5,FONT), note(460,131.5,'~130.00',SLATE,14.5,FONT),
  note(460.25,123.3,'~122.00',SLATE,14.5,FONT), note(460.5,116,'~114.50',SLATE,14.5,FONT)
];

const chart = echarts.init(document.getElementById('chart'), null, {renderer: 'canvas'});
const small = {color: '#444', fontFamily: FONT, fontSize: 9.5};

const frame = (y, h) => ({type: 'rect', silent: true, z: 50,
  shape: {x: 2.5, y, width: 1874.5, height: h}, style: {fill: 'none', stroke: '#484848', lineWidth: 1.4}});
const text = (x, y, t, size, family, fill, sx, weight) => ({type: 'text', x, y, scaleX: sx || 1, silent: true, z: 60,
  style: {text: t, fontSize: size, fontFamily: family, fontWeight: weight || 'normal', fill, verticalAlign: 'middle'}});

chart.setOption({
  animation: false,
  backgroundColor: '#fff',
  textStyle: {fontFamily: FONT},
  grid: [
    {left: 1, width: 1876, top: 3, height: 667},
    {left: 1, width: 1876, top: 672, height: 124},
    {left: 1, width: 1876, top: 798.5, height: 117}
  ],
  xAxis: [
    {type: 'category', gridIndex: 0, data: slots, show: false},
    {type: 'value', gridIndex: 0, min: XMIN, max: XMAX, show: false},
    {type: 'value', gridIndex: 1, min: XMIN, max: XMAX, show: false},
    {type: 'value', gridIndex: 2, min: XMIN, max: XMAX, show: false},
    {type: 'category', gridIndex: 2, data: slots, position: 'bottom',
     axisLine: {show: false},
     axisTick: {show: true, alignWithLabel: true, length: 3, lineStyle: {color: '#444'},
                interval: i => i % 16 === 0 && i / 16 < dateTicks.length},
     axisLabel: {...small, align: 'left', margin: 4, padding: [0, 0, 0, -1],
                 interval: i => i % 16 === 0 && i / 16 < dateTicks.length,
                 formatter: (v, i) => dateTicks[i / 16] || ''}}
  ],
  yAxis: [
    {type: 'value', gridIndex: 0, position: 'right', min: 103.77, max: 217.06, splitLine: {show: false},
     axisLine: {show: false}, axisTick: {show: true, length: 3, customValues: priceTicks, lineStyle: {color: '#444'}},
     axisLabel: {...small, margin: 5, customValues: priceTicks, formatter: v => v.toFixed(2)}},
    {type: 'value', gridIndex: 0, position: 'right', min: 103.77, max: 217.06, splitLine: {show: false}, z: 8,
     axisLine: {show: false}, axisTick: {show: false},
     axisLabel: {margin: 1, customValues: levels.concat(lastClose),
       formatter: v => (v === lastClose ? '{g|' : '{b|') + v.toFixed(2) + '}',
       rich: {
         b: {backgroundColor: '#000', color: '#fff', fontFamily: FONT, fontSize: 9.5, padding: [1.5, 4, 1.5, 4], width: 28},
         g: {backgroundColor: '#555', color: '#fff', fontFamily: FONT, fontSize: 9.5, padding: [1.5, 4, 1.5, 4], width: 28}
       }}},
    {type: 'value', gridIndex: 1, position: 'right', min: 0, max: 100, splitLine: {show: false},
     axisLine: {show: false}, axisTick: {show: true, length: 3, customValues: rsiTicks, lineStyle: {color: '#444'}},
     axisLabel: {...small, margin: 3, customValues: rsiTicks, verticalAlignMinLabel: 'bottom', verticalAlignMaxLabel: 'top', formatter: v => String(v)}},
    {type: 'value', gridIndex: 2, position: 'right', min: -7.062, max: 7.021, splitLine: {show: false},
     axisLine: {show: false}, axisTick: {show: true, length: 3, customValues: macdTicks, lineStyle: {color: '#444'}},
     axisLabel: {...small, margin: 3, customValues: macdTicks, verticalAlignMinLabel: 'bottom', verticalAlignMaxLabel: 'top',
                 formatter: v => v === 0 ? '0.00' : String(v)}}
  ],
  series: [
    // support and resistance levels
    ...levels.map(v => lineSeries([[XMIN, v], [XMAX, v]], '#000', 1, 1, {lineStyle: {color: '#000', width: 1, type: [8, 3, 2, 3]}})),
    {type: 'scatter', xAxisIndex: 1, yAxisIndex: 0, silent: true, z: 2,
     symbol: 'path://M0,10 L0,0 L10,0', symbolSize: [5, 4], symbolOffset: [0, -2],
     itemStyle: {color: 'none', borderColor: '#000', borderWidth: 1},
     data: [182.5, 157.4, 142.8].flatMap(v => [[0.6, v], [467.6, v]])},
    // price candles
    {type: 'candlestick', xAxisIndex: 0, yAxisIndex: 0, data: candles, barWidth: 3, z: 3, silent: true,
     itemStyle: {color: '#ffffff', color0: DARK, borderColor: CYAN, borderColor0: DARK, borderWidth: 1}},
    // Bollinger bands and moving averages
    lineSeries(bandUpper, BAND, 1, 4, curved), lineSeries(bandMiddle, BAND, 1, 4, curved), lineSeries(bandLower, BAND, 1, 4, curved),
    lineSeries(ema200, '#000000', 1, 5, curved), lineSeries(ema100, '#00ff00', 1, 5, curved),
    lineSeries(ema50, '#ff0000', 1, 5, curved), lineSeries(ema21, '#ffff00', 1, 5, curved),
    // trend channel and scenarios
    lineSeries(channelUpper, '#00a9d2', 2.6, 6), lineSeries(channelLower, '#00a9d2', 2.6, 6), lineSeries(risingSupport, '#00a9d2', 2.6, 6),
    lineSeries(bullPath, '#00a9d2', 2.6, 6, {smooth: 0.45}),
    lineSeries(bearPath, '#4f5b66', 2.6, 6, {smooth: 0.45}),
    {type: 'scatter', xAxisIndex: 1, yAxisIndex: 0, silent: true, z: 7, symbol: 'arrow', symbolSize: [10, 13], symbolRotate: -5,
     itemStyle: {color: '#00a9d2'}, data: [[429.2, 167.6]]},
    {type: 'scatter', xAxisIndex: 1, yAxisIndex: 0, silent: true, z: 7, symbol: 'arrow', symbolSize: [10, 13], symbolRotate: -165,
     itemStyle: {color: '#4f5b66'}, data: [[429.1, 131.4]]},
    {type: 'scatter', xAxisIndex: 1, yAxisIndex: 0, silent: true, z: 8, symbolSize: 1,
     itemStyle: {color: 'rgba(0,0,0,0)'}, data: notes},
    // RSI pane
    {type: 'line', xAxisIndex: 2, yAxisIndex: 2, symbol: 'none', silent: true, z: 3, data: rsiLine,
     lineStyle: {color: CYAN, width: 1}},
    ...[80, 20].map(v => ({type: 'line', xAxisIndex: 2, yAxisIndex: 2, symbol: 'none', silent: true, z: 2,
      data: [[XMIN, v], [XMAX, v]], lineStyle: {color: '#c4c4c4', width: 1, type: [4, 3]}})),
    // MACD pane
    {type: 'bar', xAxisIndex: 4, yAxisIndex: 3, data: macdHist, barWidth: 1, silent: true, z: 2,
     itemStyle: {color: '#12aed3'}},
    {type: 'line', xAxisIndex: 3, yAxisIndex: 3, symbol: 'none', silent: true, z: 3, data: macdSignal,
     smooth: 0.4, smoothMonotone: 'x', lineStyle: {color: '#000', width: 1.1}}
  ],
  graphic: [
    frame(2.5, 667), frame(671.5, 124.5), frame(798.5, 117),
    {type: 'polygon', silent: true, z: 60, shape: {points: [[6, 9], [13, 9], [9.5, 13]]}, style: {fill: '#333'}},
    text(18, 10.5, 'BABA,Daily', 9.5, FONT, '#444'),
    text(75, 10.5, '147.12 151.16 147.04 150.03', 9.5, FONT, '#444'),
    text(7, 681, 'RSI(14) 51.1511', 9.5, FONT, '#444'),
    text(7, 807.5, 'MACD(12,26,9) 0.056 -0.577', 9.5, FONT, '#444'),
    // broker mark
    text(14, 43.5, 'JFD', 47, FONT, '#3d4754', 0.83, 'bold'),
    {type: 'line', silent: true, z: 60, shape: {x1: 98.5, y1: 26, x2: 98.5, y2: 60}, style: {stroke: '#9aa1a8', lineWidth: 1}},
    {type: 'rect', silent: true, z: 60, shape: {x: 97, y: 37, width: 3, height: 11}, style: {fill: '#3d4754'}},
    text(109, 38, 'BROKERS', 33, '"Liberation Serif", serif', '#4a5560', 0.86),
    text(110, 57, 'JUST FAIR & DIRECT', 12, '"Liberation Serif", serif', '#6b7580', 1.14)
  ]
});
</script>
</body>
</html>
